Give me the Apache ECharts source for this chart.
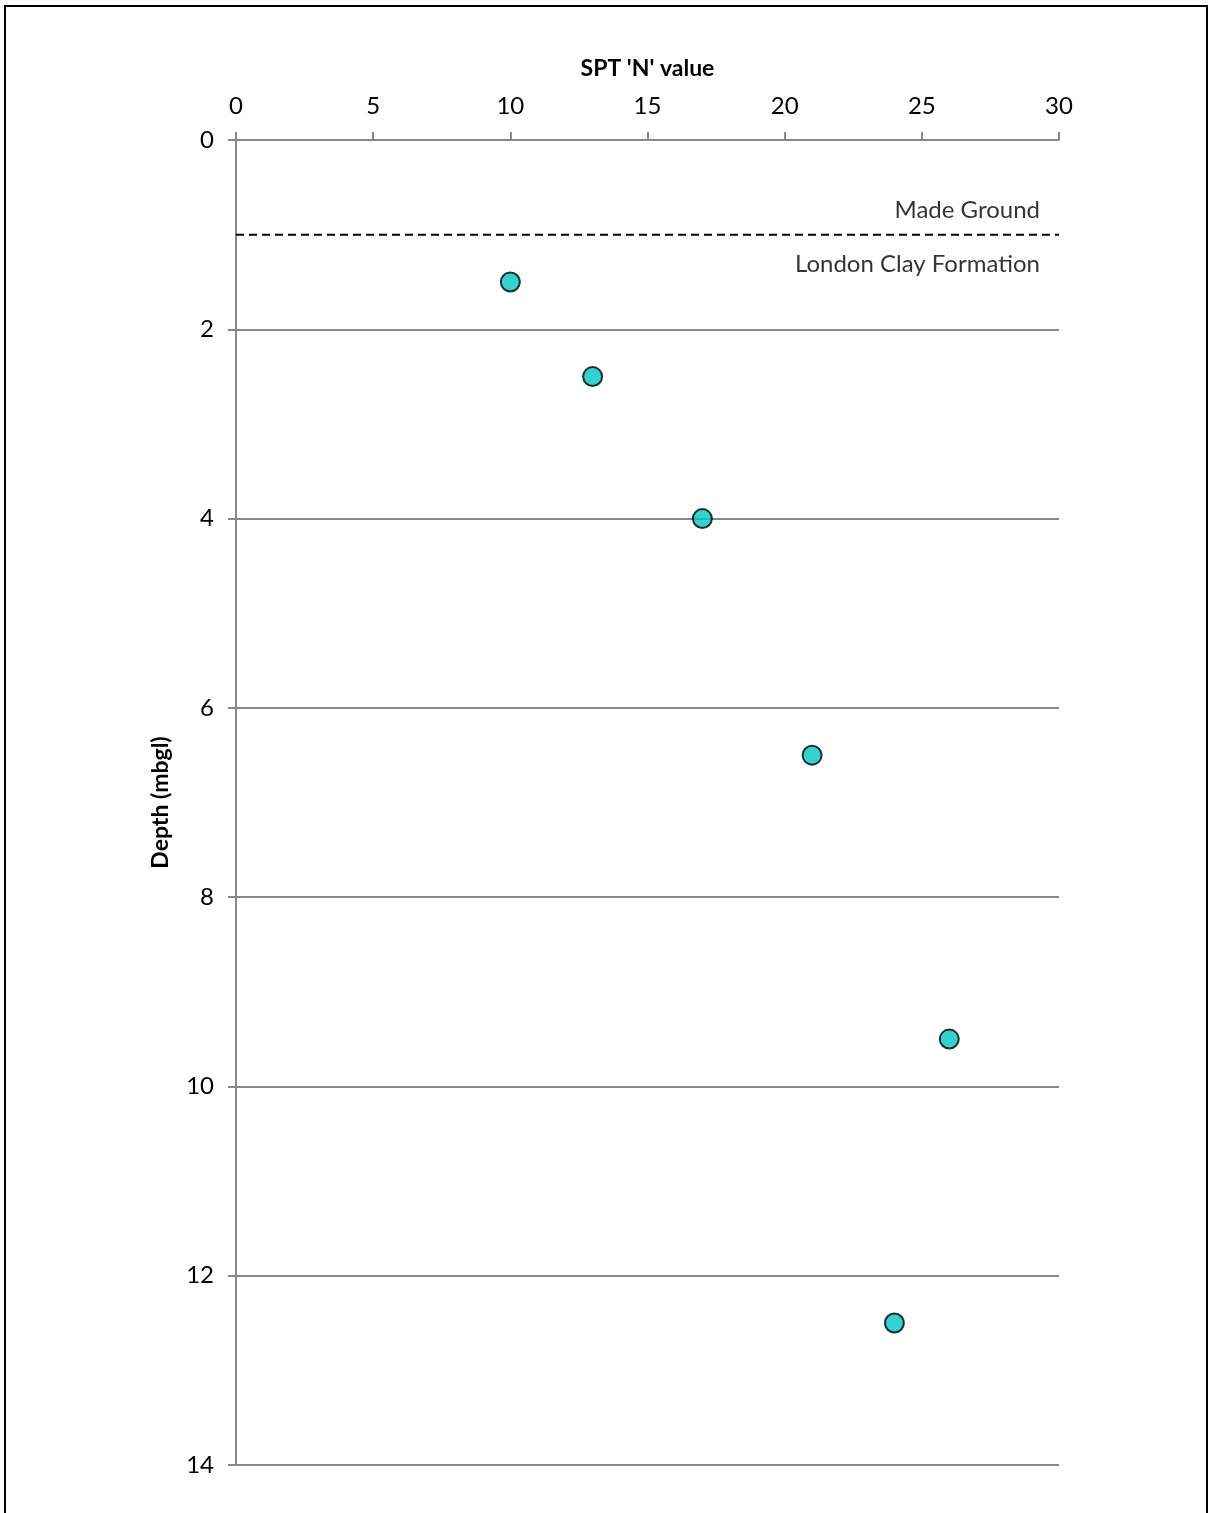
<!DOCTYPE html>
<html>
<head>
<meta charset="utf-8">
<script src="https://cdn.jsdelivr.net/npm/echarts@6/dist/echarts.min.js"></script>
<style>
  html, body { margin: 0; padding: 0; background: #fff; }
  #frame { position: absolute; left: 4px; top: 5px; width: 1204px; height: 1520px; border: 2px solid #000; box-sizing: border-box; }
  #chart { position: absolute; left: 0; top: 0; width: 1208px; height: 1513px; }
</style>
</head>
<body>
<div id="frame"></div>
<div id="chart"></div>
<script>
// Data
const sptN = [10, 13, 17, 21, 26, 24];
const depth = [1.5, 2.5, 4, 6.5, 9.5, 12.5];
const boundaryDepth = 1.0;
const strataAbove = 'Made Ground';
const strataBelow = 'London Clay Formation';
const xTitle = "SPT 'N' value";
const yTitle = 'Depth (mbgl)';

const FONT = 'Lato';
const chart = echarts.init(document.getElementById('chart'), null, { renderer: 'canvas' });

const points = sptN.map((v, i) => [v, depth[i]]);

chart.setOption({
  backgroundColor: 'transparent',
  animation: false,
  grid: { left: 236, right: 149, top: 140, bottom: 48 },
  xAxis: {
    type: 'value', position: 'top', min: 0, max: 30, interval: 5,
    name: xTitle, nameLocation: 'middle', nameGap: 60,
    nameTextStyle: { fontFamily: FONT, fontSize: 23, fontWeight: 'bold', color: '#000' },
    axisLine: { show: true, lineStyle: { color: '#888', width: 2 } },
    axisTick: { show: true, inside: false, length: 8, lineStyle: { color: '#888', width: 2 } },
    axisLabel: { fontFamily: FONT, fontSize: 24, color: '#000', margin: 22 },
    splitLine: { show: false }
  },
  yAxis: {
    type: 'value', inverse: true, min: 0, max: 14, interval: 2,
    name: yTitle, nameLocation: 'middle', nameGap: 64, nameRotate: 90,
    nameTextStyle: { fontFamily: FONT, fontSize: 23, fontWeight: 'bold', color: '#000' },
    axisLine: { show: true, onZero: false, lineStyle: { color: '#888', width: 2 } },
    axisTick: { show: true, inside: false, length: 8, lineStyle: { color: '#888', width: 2 } },
    axisLabel: { fontFamily: FONT, fontSize: 24, color: '#000', margin: 22 },
    splitLine: { show: true, lineStyle: { color: '#888', width: 2 } }
  },
  series: [
    {
      type: 'line',
      data: [[0, boundaryDepth], [30, boundaryDepth]],
      symbol: 'none',
      lineStyle: { color: '#000', width: 2, type: [8, 5] },
      silent: true,
      z: 3
    },
    {
      type: 'scatter',
      data: [[30, boundaryDepth]],
      symbolSize: 0,
      label: {
        show: true, position: 'left', formatter: strataAbove,
        offset: [-14, -24], fontFamily: FONT, fontSize: 24, color: '#000'
      },
      silent: true
    },
    {
      type: 'scatter',
      data: [[30, boundaryDepth]],
      symbolSize: 0,
      label: {
        show: true, position: 'left', formatter: strataBelow,
        offset: [-14, 30], fontFamily: FONT, fontSize: 24, color: '#000'
      },
      silent: true
    },
    {
      type: 'scatter',
      data: points,
      symbol: 'circle',
      symbolSize: 19,
      itemStyle: { color: '#00C6C4', borderColor: '#000', borderWidth: 2 },
      z: 5
    }
  ]
});
</script>
</body>
</html>
